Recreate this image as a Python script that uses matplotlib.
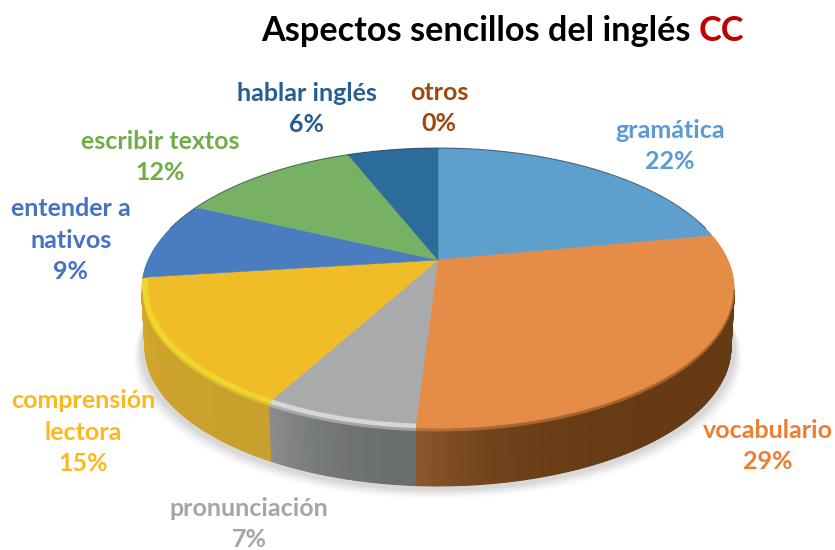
import numpy as np
from matplotlib import pyplot as plt
from matplotlib.collections import PolyCollection
from matplotlib.colors import to_rgb
from matplotlib.patches import Polygon

categories = ['gramática', 'vocabulario', 'pronunciación', 'comprensión\nlectora',
              'entender a\nnativos', 'escribir textos', 'hablar inglés', 'otros']
values = [22, 29, 7, 15, 9, 12, 6, 0]
label_colors = ['#5b9bd5', '#ed7d31', '#a5a5a5', '#ffb81c',
                '#4472c4', '#70ad47', '#255e91', '#9e480e']
top_colors = ['#5f9fce', '#e58c47', '#a8aaab', '#f0bd28',
              '#4a7dc0', '#77b163', '#2b6c9b', '#9e480e']
rim_colors = ['#5f9fce', '#e58c47', '#d6d7d7', '#efd62c',
              '#4a7dc0', '#77b163', '#2b6c9b', '#b5602a']
side_start = ['#3f6f94', '#663a14', '#6b6e6e', '#c9a02c',
              '#3a5f96', '#5a8a4a', '#1f5075', '#6e3409']
side_end = ['#3f6f94', '#935c30', '#8e9091', '#d8aa2a',
            '#3a5f96', '#5a8a4a', '#1f5075', '#6e3409']
side_curve = [3, 9, 2, 2, 3, 3, 3, 3]
label_x = [670, 768, 249, 83, 71, 160, 307, 439]
label_y = [146, 446, 524, 432, 240, 157, 109, 108]

plt.rcParams['font.family'] = ['Lato', 'DejaVu Sans']

# pie centre in pixels, and the perspective used for the tilted disc
cx, cy = 438, 260
A, B, k = 290, 134.4, 0.2
depth = 60


def project(theta, r=1.0, drop=0.0):
    u = r * np.sin(theta)
    v = -r * np.cos(theta)
    w = 1 - k * v
    return cx + A * u / w, cy + B * v / w + drop


def mix(c0, c1, t):
    c0, c1 = np.array(to_rgb(c0)), np.array(to_rgb(c1))
    return tuple(c0 + (c1 - c0) * t)


fig = plt.figure(figsize=(8.35, 5.5), dpi=100)
ax = fig.add_axes([0, 0, 1, 1])
ax.set_xlim(0, 835)
ax.set_ylim(550, 0)
ax.axis('off')

circle = np.linspace(0, 2 * np.pi, 361)

# soft shadow under the pie
for grow, alpha in zip([20, 16, 12, 8, 4], [0.025, 0.035, 0.05, 0.06, 0.07]):
    x, y = project(circle, 1.0, depth + 1)
    ax.add_patch(Polygon(np.c_[cx + (x - cx) * (1 + grow / 700), y + grow * 0.5],
                         fc='#555555', ec='none', alpha=alpha, zorder=1))

edges = 2 * np.pi * np.cumsum([0] + values) / sum(values)

polys, colors = [], []
for i in range(len(values)):
    if values[i] == 0:
        continue
    thetas = np.linspace(edges[i], edges[i + 1], max(int(values[i] * 4), 2))
    for j in range(len(thetas) - 1):
        t0, t1 = thetas[j], thetas[j + 1]
        side = mix(side_start[i], side_end[i], (j / len(thetas)) ** side_curve[i])
        # the wall only shows on the front of the disc
        front = -np.cos((t0 + t1) / 2) > k
        # bands from the inner rim of the top face down to the bottom edge
        bands = [(0.976, 0, top_colors[i]), (0.984, 0, mix(top_colors[i], rim_colors[i], 0.5)),
                 (0.994, 0, rim_colors[i]), (1.0, 1, rim_colors[i])]
        if front:
            bands += [(1.0, 4, mix(rim_colors[i], side, 0.5)), (1.0, 8, side),
                      (0.99, depth, side)]
        for (r0, d0, c0), (r1, d1, c1) in zip(bands[:-1], bands[1:]):
            x00, y00 = project(t0, r0, d0)
            x01, y01 = project(t1, r0, d0)
            x10, y10 = project(t1, r1, d1)
            x11, y11 = project(t0, r1, d1)
            polys.append([(x00, y00), (x01, y01), (x10, y10), (x11, y11)])
            colors.append(c1)

ax.add_collection(PolyCollection(polys, facecolors=colors, edgecolors=colors,
                                 linewidths=0.8, zorder=2))

# top faces
for i in range(len(values)):
    if values[i] == 0:
        continue
    thetas = np.linspace(edges[i], edges[i + 1], 100)
    x, y = project(thetas, 0.978)
    ax.add_patch(Polygon(np.c_[np.r_[cx, x], np.r_[cy, y]], fc=top_colors[i],
                         ec=top_colors[i], lw=0.4, zorder=3))

# dark hairline on the back of the disc
back = np.linspace(-np.pi * 0.42, np.pi * 0.42, 200)
x, y = project(back)
ax.plot(x, y, color='#3a4650', lw=0.8, alpha=0.7, zorder=2.5)

for name, val, color, x, y in zip(categories, values, label_colors, label_x, label_y):
    ax.text(x, y, f'{name}\n{val}%', color=color, fontsize=18, fontweight='bold',
            ha='center', va='center', linespacing=1.45, zorder=5)

title = ax.text(261, 31, 'Aspectos sencillos del inglés ', color='black', fontsize=24.7,
                fontweight='bold', ha='left', va='center')
ax.annotate('CC', xy=(1, 0), xycoords=title, color='#c00000', fontsize=24.7,
            fontweight='bold', ha='left', va='bottom')

fig.savefig('out.png', dpi=100)
